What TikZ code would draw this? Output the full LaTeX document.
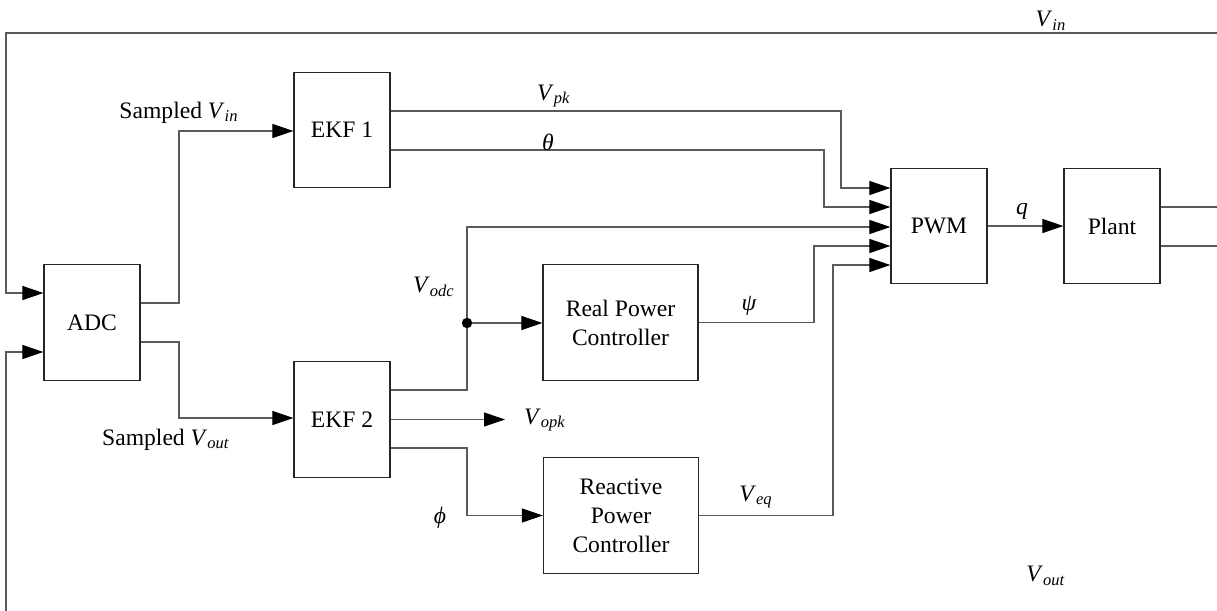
\documentclass[tikz,border=0pt]{standalone}
\usepackage{fontspec}
\setmainfont{Liberation Serif}
\usetikzlibrary{arrows.meta,calc}
\definecolor{wiregray}{HTML}{5A5A5A}
\tikzset{
  blk/.style={draw=black!85, line width=0.6pt, minimum width=48pt, minimum height=57.75pt,
              align=center, inner sep=0pt, font=\fontsize{11.8}{14.5}\selectfont},
  wire/.style={draw=wiregray, line width=0.55pt},
  sig/.style={wire, -{Triangle[length=10.5pt,width=7pt,color=black]}},
  lbl/.style={font=\fontsize{11.8}{13.5}\selectfont, inner sep=0pt},
}
\newcommand{\sigv}[1]{\textit{V}\textsubscript{\textit{#1}}}

\begin{document}
\begin{tikzpicture}[x=0.5pt,y=-0.5pt]
  \useasboundingbox (0,0) rectangle (1217,611);
  % blocks
  \node[blk] (ADC) at (92,322.5) {ADC};
  \node[blk] (EKFa) at (342,130) {EKF 1};
  \node[blk] (EKFb) at (342,419.5) {EKF 2};
  \node[blk, minimum width=77.5pt] (RPC) at (620.5,322.5) {Real Power\\Controller};
  \node[blk, minimum width=77.5pt] (QPC) at (621,515.5) {Reactive\\Power\\Controller};
  \node[blk] (PWM) at (939,226) {PWM};
  \node[blk] (Plant) at (1112,226) {Plant};
  % feedback from the plant side
  \coordinate (vinR) at (1217,33);
  \coordinate (voutB) at (6,611);
  \draw[sig] (vinR) -- (6,33) |- (ADC.west |- 0,293);
  \draw[sig] (voutB) |- (ADC.west |- 0,352);
  % sampled signals
  \draw[sig] (ADC.east |- 0,303) -- (179,303) |- (EKFa.west |- 0,131);
  \draw[sig] (ADC.east |- 0,342) -- (179,342) |- (EKFb.west |- 0,418);
  % into PWM
  \draw[sig] (EKFa.east |- 0,111) -| (841,188) -- (PWM.west |- 0,188);
  \draw[sig] (EKFa.east |- 0,150) -| (824,207) -- (PWM.west |- 0,207);
  \coordinate (odc) at (467,323);
  \draw[sig] (EKFb.east |- 0,390) -| (odc) |- (PWM.west |- 0,227);
  \draw[sig] (odc) -- (RPC.west |- odc);
  \fill (odc) circle (2.6pt);
  \coordinate (opk) at (505,419.5);
  \draw[sig] (EKFb.east) -- (opk);
  \draw[sig] (EKFb.east |- 0,448) -| (467,515.5) -- (QPC.west);
  \draw[sig] (RPC.east) -| (814,246) -- (PWM.west |- 0,246);
  \draw[sig] (QPC.east) -| (833,265) -- (PWM.west |- 0,265);
  \draw[sig] (PWM.east) -- (Plant.west);
  \coordinate (plA) at (1217,207);
  \coordinate (plB) at (1217,246);
  \draw[wire] (Plant.east |- plA) -- (plA);
  \draw[wire] (Plant.east |- plB) -- (plB);
  % labels
  \node[lbl] (lvin) at (1051,21) {\sigv{in}};
  \node[lbl] (lvout) at (1046,576) {\sigv{out}};
  \node[lbl, anchor=base] (lsin) at (179,118) {Sampled \sigv{in}};
  \node[lbl, anchor=base] (lsout) at (166,445) {Sampled \sigv{out}};
  \node[lbl] (lvpk) at (554,96) {\sigv{pk}};
  \node[lbl] (lth) at (548,142) {\textit{θ}};
  \node[lbl] (lodc) at (434,287) {\sigv{odc}};
  \node[lbl] (lpsi) at (749,306) {\textit{ψ}};
  \node[lbl, anchor=base] (lq) at (1022,214) {\textit{q}};
  \node[lbl] (lopk) at (545,420) {\sigv{opk}};
  \node[lbl] (lphi) at (440,518) {\textit{ϕ}};
  \node[lbl] (lveq) at (756,497) {\sigv{eq}};
\end{tikzpicture}
\end{document}
